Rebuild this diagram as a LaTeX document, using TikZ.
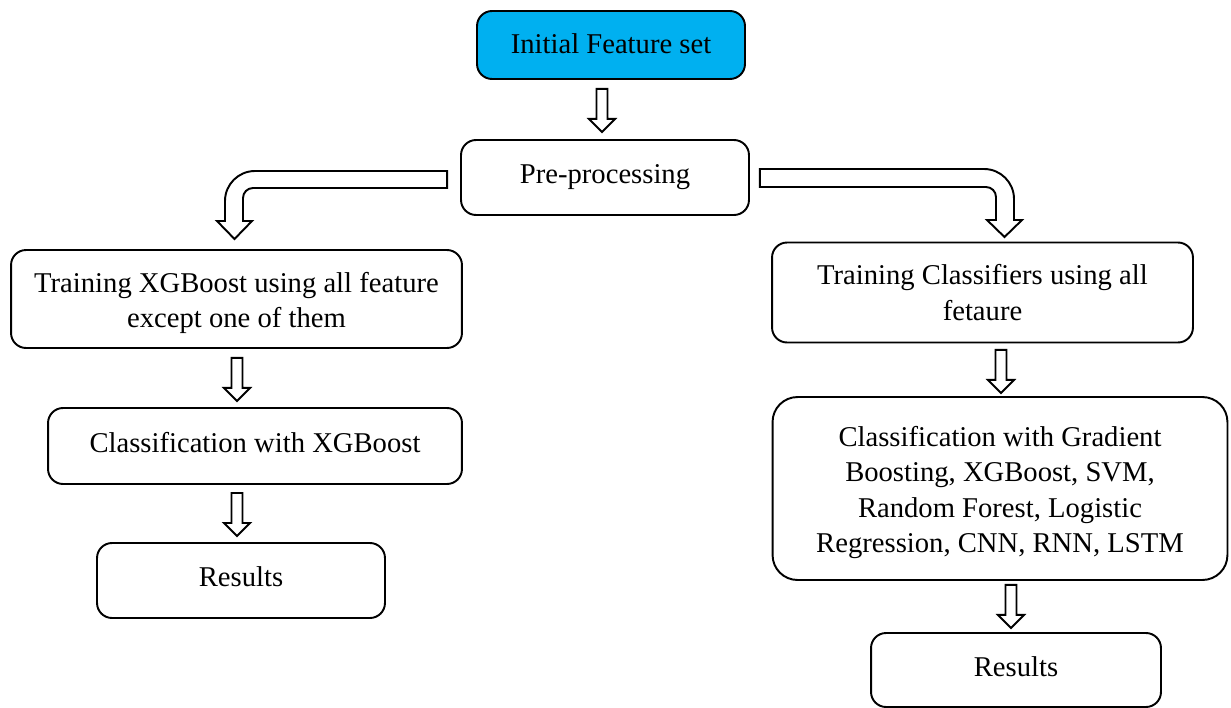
\documentclass[tikz,border=0pt]{standalone}
\usepackage{fontspec}
\setmainfont{Liberation Serif}
\usepackage{xcolor}
\definecolor{initblue}{RGB}{0,176,240}

\tikzset{
  box/.style={shape=rectangle,draw=black,line width=1.1pt,rounded corners=0.3cm,
    align=center,font=\fontsize{16.3}{20}\selectfont,inner sep=2pt},
  oneline/.style={text depth=0.4em},
  hollow/.style={draw=black,line width=1.1pt,fill=white,line join=miter},
  pics/downarrow/.style={code={
    \draw[hollow] (-5.5,0) -- (-5.5,30) -- (-13,30) -- (0,43) -- (13,30) -- (5.5,30) -- (5.5,0) -- cycle;
  }}
}

\begin{document}
\begin{tikzpicture}[x=0.02cm,y=-0.02cm]
                    \useasboundingbox (0,0) rectangle (1231,707);
                    \node[box,text depth=0.15em,fill=initblue,minimum width=5.36cm,minimum height=1.36cm] (init) at (611,45) {Initial Feature set};
                    \node[box,oneline,minimum width=5.76cm,minimum height=1.5cm] (pre) at (605,177.5) {Pre-processing};
                    \node[box,minimum width=9.02cm,minimum height=1.96cm] (trainX) at (236.5,299) {\rule{0pt}{16pt}Training XGBoost using all feature\\except one of them};
                    \node[box,oneline,minimum width=8.28cm,minimum height=1.52cm] (classX) at (255,446) {Classification with XGBoost};
                    \node[box,oneline,minimum width=5.76cm,minimum height=1.5cm] (resL) at (241,580.5) {Results};
                    \node[box,minimum width=8.42cm,minimum height=2cm] (trainC) at (982.5,292.5) {Training Classifiers using all\\fetaure};
                    \node[box,rounded corners=0.5cm,minimum width=9.1cm,minimum height=3.66cm] (classC) at (1000,488.5) {\rule{0pt}{16pt}Classification with Gradient\\Boosting, XGBoost, SVM,\\Random Forest, Logistic\\Regression, CNN, RNN, LSTM};
                    \node[box,oneline,minimum width=5.8cm,minimum height=1.48cm] (resR) at (1016,670) {Results};

                    \path (init.south) ++(-9,9) pic {downarrow};
                    \path (trainX.south) ++(0.5,9) pic {downarrow};
                    \path (classX.south) ++(-18,8) pic {downarrow};
                    \path (trainC.south) ++(18.5,6.5) pic {downarrow};
                    \path (classC.south) ++(11,4) pic {downarrow};

                    % bent arrows out of pre-processing
                    \draw[hollow] ([shift={(-13,-6.5)}]pre.west) -- (255,171) .. controls (238.4,171) and (225,184.4) .. (225,201)
                      -- (225,221) -- (217,221) -- (234.5,239) -- (252,221) -- (243,221) -- (243,198)
                      .. controls (243,192.5) and (247.5,188) .. (253,188) -- ([shift={(-13,10.5)}]pre.west) -- cycle;
                    \draw[hollow] ([shift={(10,-8.5)}]pre.east) -- (984,169) .. controls (1000.6,169) and (1014,182.4) .. (1014,199)
                      -- (1014,220) -- (1022,220) -- (1004.5,237) -- (987,220) -- (996,220) -- (996,197)
                      .. controls (996,191.5) and (991.5,187) .. (986,187) -- ([shift={(10,9.5)}]pre.east) -- cycle;
                \end{tikzpicture}
\end{document}
